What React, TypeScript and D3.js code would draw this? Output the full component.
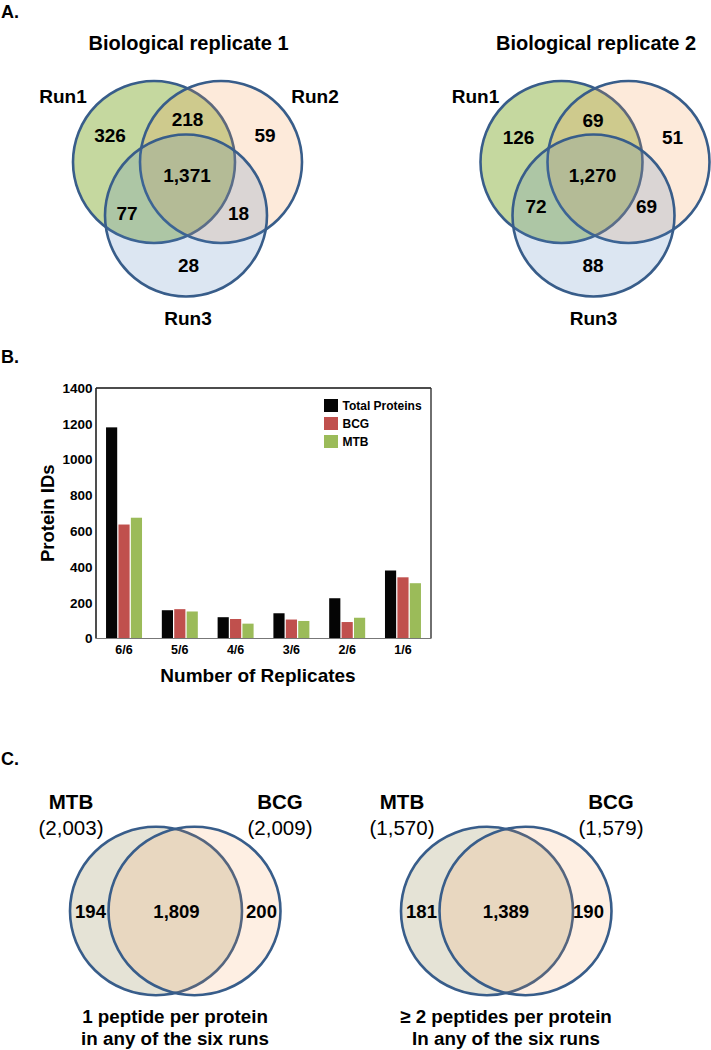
import React from "react";
import * as d3 from "d3";

// ---------- DATA ----------
// Panel A: three-run Venn diagrams (regions: only1, only2, only3, 1&2, 1&3, 2&3, all)
const vennRegions = ["1", "2", "3", "12", "13", "23", "123"];
const replicate1Counts = [326, 59, 28, 218, 77, 18, 1371];
const replicate2Counts = [126, 51, 88, 69, 72, 69, 1270];
const replicateTitles = ["Biological replicate 1", "Biological replicate 2"];
const runLabels = ["Run1", "Run2", "Run3"];

// Panel B: bar chart
const replicateCategories = ["6/6", "5/6", "4/6", "3/6", "2/6", "1/6"];
const seriesNames = ["Total Proteins", "BCG", "MTB"];
const totalProteins = [1180, 158, 119, 141, 225, 380];
const bcgValues = [637, 164, 109, 106, 92, 342];
const mtbValues = [675, 151, 83, 98, 116, 309];
const yTicks = [0, 200, 400, 600, 800, 1000, 1200, 1400];

// Panel C: two-set Venn diagrams (regions: MTB only, BCG only, both)
const pairSetNames = ["MTB", "BCG"];
const onePeptideCounts = [194, 200, 1809];
const onePeptideTotals = ["(2,003)", "(2,009)"];
const twoPeptideCounts = [181, 190, 1389];
const twoPeptideTotals = ["(1,570)", "(1,579)"];
const onePeptideCaption = ["1 peptide per protein", "in any of the six runs"];
const twoPeptideCaption = ["\u2265 2 peptides per protein", "In any of the six runs"];

// ---------- STYLE ----------
const FONT = "'Liberation Sans', Arial, Helvetica, sans-serif";
const STROKE = "#385d8a";
const fmt = d3.format(",");

type Pt = [number, number];

function Venn3({
  dx,
  counts,
  title,
  labels,
  labelPos,
  numPos,
}: {
  dx: number;
  counts: number[];
  title: string;
  labels: (string | null)[];
  labelPos: Pt[];
  numPos: Pt[];
}) {
  const r = 81;
  const centers: Pt[] = [
    [154, 162],
    [221, 162],
    [186, 215.5],
  ];
  const fills = [
    { c: "#9bbb59", o: 0.58 },
    { c: "#f79646", o: 0.2 },
    { c: "#4f81bd", o: 0.2 },
  ];
  return (
    <g transform={`translate(${dx},0)`}>
      <text x={188.5} y={50} textAnchor="middle" fontSize={20} fontWeight="bold">
        {title}
      </text>
      {centers.map((c, i) => (
        <g key={i}>
          <circle cx={c[0]} cy={c[1]} r={r} fill={fills[i].c} fillOpacity={fills[i].o} stroke="none" />
          <circle cx={c[0]} cy={c[1]} r={r} fill="none" stroke={STROKE} strokeWidth={2.6} />
        </g>
      ))}
      {labels.map((l, i) =>
        l ? (
          <text key={i} x={labelPos[i][0]} y={labelPos[i][1]} textAnchor="middle" fontSize={19} fontWeight="bold">
            {l}
          </text>
        ) : null
      )}
      {counts.map((v, i) => (
        <text key={vennRegions[i]} x={numPos[i][0]} y={numPos[i][1]} textAnchor="middle" fontSize={19} fontWeight="bold">
          {fmt(v)}
        </text>
      ))}
    </g>
  );
}

function Venn2({
  dx,
  counts,
  totals,
  caption,
  numX,
}: {
  dx: number;
  counts: number[];
  totals: string[];
  caption: string[];
  numX: number[];
}) {
  const cy = 911;
  const rx = 86;
  const ry = 84.2;
  const cxs = [156, 194.5];
  const labelX = [71, 280];
  return (
    <g transform={`translate(${dx},0)`}>
      <ellipse cx={cxs[0]} cy={cy} rx={rx} ry={ry} fill="#948a54" fillOpacity={0.24} />
      <ellipse cx={cxs[0]} cy={cy} rx={rx} ry={ry} fill="none" stroke={STROKE} strokeWidth={2.6} />
      <ellipse cx={cxs[1]} cy={cy} rx={rx} ry={ry} fill="#f79646" fillOpacity={0.15} />
      <ellipse cx={cxs[1]} cy={cy} rx={rx} ry={ry} fill="none" stroke={STROKE} strokeWidth={2.6} />
      {pairSetNames.map((n, i) => (
        <g key={n}>
          <text x={labelX[i]} y={809} textAnchor="middle" fontSize={20.5} fontWeight="bold">
            {n}
          </text>
          <text x={labelX[i]} y={835} textAnchor="middle" fontSize={20.5}>
            {totals[i]}
          </text>
        </g>
      ))}
      {counts.map((v, i) => (
        <text key={i} x={numX[i]} y={918} textAnchor="middle" fontSize={18.5} fontWeight="bold">
          {fmt(v)}
        </text>
      ))}
      {caption.map((c, i) => (
        <text key={i} x={175} y={1023 + i * 22} textAnchor="middle" fontSize={18.8} fontWeight="bold">
          {c}
        </text>
      ))}
    </g>
  );
}

function BarChart() {
  const left = 96;
  const right = 431;
  const top = 388;
  const bottom = 638.5;
  const y = d3.scaleLinear().domain([0, 1400]).range([bottom, top]);
  const x0 = d3.scaleBand<string>().domain(replicateCategories).range([left, right]).paddingInner(0.355).paddingOuter(0.18);
  const x1 = d3.scaleBand<string>().domain(seriesNames).range([0, x0.bandwidth()]).paddingInner(0.1);
  const colors = d3.scaleOrdinal<string, string>().domain(seriesNames).range(["#050505", "#c0504d", "#9bbb59"]);
  const series = [totalProteins, bcgValues, mtbValues];

  return (
    <g>
      {replicateCategories.map((cat, ci) => (
        <g key={cat} transform={`translate(${x0(cat)},0)`}>
          {seriesNames.map((s, si) => (
            <rect
              key={s}
              x={x1(s)}
              y={y(series[si][ci])}
              width={x1.bandwidth()}
              height={bottom - y(series[si][ci])}
              fill={colors(s)}
            />
          ))}
          <text x={x0.bandwidth() / 2} y={654} textAnchor="middle" fontSize={12.5} fontWeight="bold">
            {cat}
          </text>
        </g>
      ))}
      {/* frame */}
      <line x1={left} x2={right} y1={top} y2={top} stroke="#111" strokeWidth={1.6} />
      <line x1={left} x2={left} y1={top} y2={bottom} stroke="#222" strokeWidth={1.6} />
      <line x1={right} x2={right} y1={top} y2={bottom} stroke="#333" strokeWidth={1.4} />
      <line x1={left} x2={right} y1={bottom} y2={bottom} stroke="#777" strokeWidth={1.2} />
      {yTicks.map((t) => (
        <text key={t} x={92.5} y={y(t) + 4.8} textAnchor="end" fontSize={13.5} fontWeight="bold">
          {t}
        </text>
      ))}
      <text transform={`translate(54,${(top + bottom) / 2}) rotate(-90)`} textAnchor="middle" fontSize={18.5} fontWeight="bold">
        Protein IDs
      </text>
      <text x={258} y={682} textAnchor="middle" fontSize={19} fontWeight="bold">
        Number of Replicates
      </text>
      {/* legend */}
      {seriesNames.map((s, i) => (
        <g key={s} transform={`translate(324,${399 + i * 18})`}>
          <rect x={0} y={0} width={14} height={13} fill={colors(s)} />
          <text x={18.5} y={11} fontSize={12} fontWeight="bold">
            {s}
          </text>
        </g>
      ))}
    </g>
  );
}

export default function App() {
  const labelPosA: Pt[] = [
    [63, 103],
    [315, 103],
    [188, 325],
  ];
  const numPos1: Pt[] = [
    [110, 142],
    [265, 142],
    [188.5, 272],
    [187.5, 126],
    [127, 220],
    [238.5, 220],
    [187, 182],
  ];
  const numPos2: Pt[] = [
    [111, 143.5],
    [265, 143.5],
    [185.5, 272],
    [185.5, 127],
    [128.5, 213],
    [239, 213],
    [185, 182],
  ];
  return (
    <svg
      width={711}
      height={1050}
      viewBox="0 0 711 1050"
      style={{ position: "absolute", left: 0, top: 0, background: "#fff" }}
      fontFamily={FONT}
    >
      <rect x={0} y={0} width={711} height={1050} fill="#fff" />
      <text x={1} y={18} fontSize={18} fontWeight="bold">A.</text>
      <text x={1} y={363} fontSize={18} fontWeight="bold">B.</text>
      <text x={1} y={765} fontSize={18} fontWeight="bold">C.</text>

      <Venn3 dx={0} counts={replicate1Counts} title={replicateTitles[0]} labels={runLabels} labelPos={labelPosA} numPos={numPos1} />
      <Venn3
        dx={407.5}
        counts={replicate2Counts}
        title={replicateTitles[1]}
        labels={[runLabels[0], null, runLabels[2]]}
        labelPos={[[68, 103], [0, 0], [186, 325]]}
        numPos={numPos2}
      />

      <BarChart />

      <Venn2 dx={0} counts={onePeptideCounts} totals={onePeptideTotals} caption={onePeptideCaption} numX={[90.5, 261.5, 176.5]} />
      <Venn2 dx={331} counts={twoPeptideCounts} totals={twoPeptideTotals} caption={twoPeptideCaption} numX={[90.5, 257.5, 175]} />
    </svg>
  );
}
